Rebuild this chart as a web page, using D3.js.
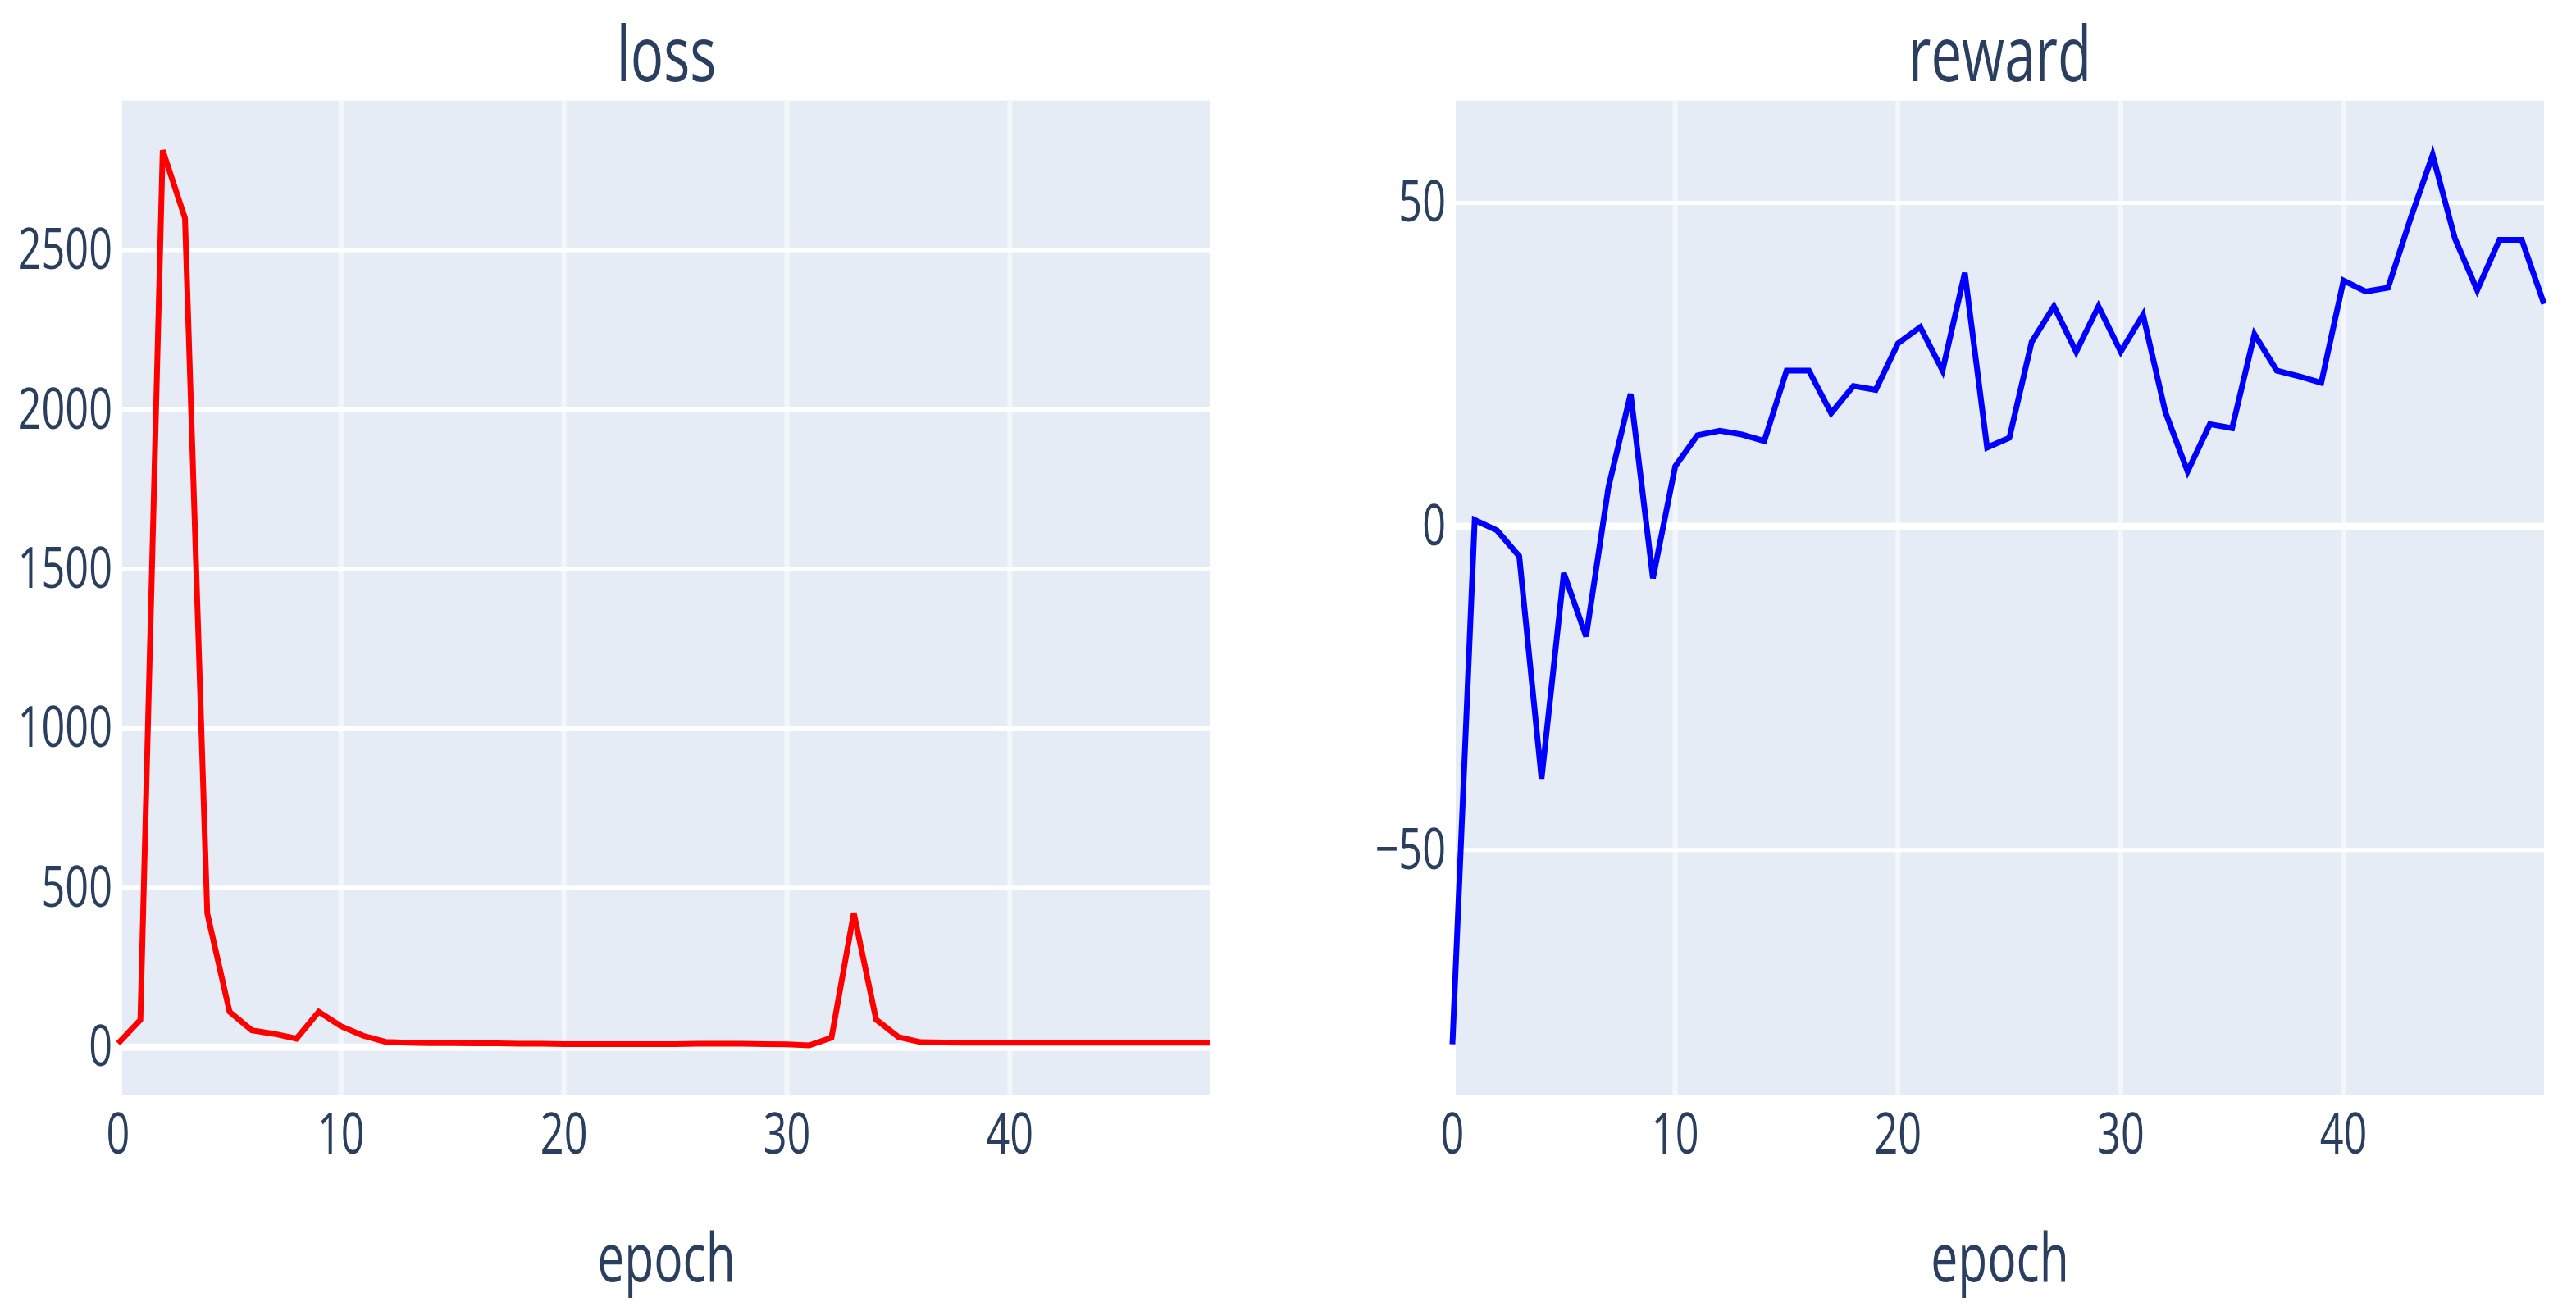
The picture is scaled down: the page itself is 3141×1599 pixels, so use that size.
<!DOCTYPE html>
<html>
<head>
<meta charset="utf-8">
<script src="https://cdn.jsdelivr.net/npm/d3@7"></script>
<style>
  html, body { margin: 0; padding: 0; background: #fff; }
  svg { display: block; }
  text { font-family: 'Open Sans', Verdana, Arial, sans-serif; fill: #2a3f5f; }
</style>
</head>
<body>
<div id="chart"></div>
<script>
const epochs = d3.range(0, 50)

const loss = [12, 86, 2813, 2600, 420, 111, 53, 42, 27, 111,
              66, 36, 17, 14, 13, 13, 12, 12, 11, 11,
              10, 10, 10, 10, 10, 10, 11, 11, 11, 10,
              9, 6, 30, 421, 87, 32, 16, 15, 14, 14,
              14, 14, 14, 14, 14, 14, 14, 14, 14, 14]

const reward = [-80, 1, -0.6, -4.6, -39, -7.2, -17, 6, 20.5, -8,
                9.3, 14.1, 14.8, 14.2, 13.2, 24.1, 24.1, 17.5, 21.7, 21.1,
                28.3, 30.8, 24.1, 39.2, 12.2, 13.7, 28.5, 34, 27, 34,
                27, 32.7, 17.7, 8.5, 15.8, 15.2, 29.7, 24.1, 23.2, 22.2,
                38, 36.3, 36.9, 47.5, 57.4, 44.5, 36.5, 44.3, 44.3, 34.4]

const epochTicks = [0, 10, 20, 30, 40]
const lossTicks = [0, 500, 1000, 1500, 2000, 2500]
const rewardTicks = [-50, 0, 50]

const width = 3141,
      height = 1599

// the picture is stretched vertically, so text is drawn taller than wide
const stretch = 1.39
const tickSize = 50.4,
      titleSize = 67.2,
      axisTitleSize = 58.8

const plotTop = 122.7,
      plotBottom = 1336

const panels = [
  { title: 'loss', values: loss, ticks: lossTicks, color: 'red',
    yDomain: [-151, 2969], xRange: [144, 1476], bg: [149, 1476], labelRight: 137 },
  { title: 'reward', values: reward, ticks: rewardTicks, color: 'blue',
    yDomain: [-87.9, 65.8], xRange: [1771, 3102], bg: [1775, 3102], labelRight: 1763 }
]

const svg = d3.select('#chart').append('svg')
  .attr('width', width)
  .attr('height', height)

const fmt = d => d < 0 ? '\u2212' + Math.abs(d) : String(d)

const stretchedText = (g, x, y, size, anchor, str) => {
  g.append('text')
    .attr('transform', 'translate(' + x + ', ' + y + ') scale(1, ' + stretch + ')')
    .attr('text-anchor', anchor)
    .style('font-size', size + 'px')
    .text(str)
}

const plot = (p) => {
  const xScale = d3.scaleLinear()
    .domain([0, 49])
    .range(p.xRange)

  const yScale = d3.scaleLinear()
    .domain(p.yDomain)
    .range([plotBottom, plotTop])

  const g = svg.append('g').classed('panel', true)

  g.append('rect').classed('plot-bg', true)
    .attr('x', p.bg[0])
    .attr('y', plotTop)
    .attr('width', p.bg[1] - p.bg[0])
    .attr('height', plotBottom - plotTop)
    .style('fill', '#e5ecf6')

  g.append('g').classed('v-grid', true)
    .selectAll('line')
    .data(epochTicks.filter(d => d > 0)).enter()
    .append('line')
    .attr('x1', d => xScale(d))
    .attr('x2', d => xScale(d))
    .attr('y1', plotTop)
    .attr('y2', plotBottom)
    .style('stroke', '#f3f6fb')
    .style('stroke-width', 6)

  g.append('g').classed('h-grid', true)
    .selectAll('line')
    .data(p.ticks).enter()
    .append('line')
    .attr('x1', p.bg[0])
    .attr('x2', p.bg[1])
    .attr('y1', d => yScale(d))
    .attr('y2', d => yScale(d))
    .style('stroke', '#ffffff')
    .style('stroke-width', d => d === 0 ? 9 : 5)

  const line = d3.line()
    .x(d => xScale(d[0]))
    .y(d => yScale(d[1]))

  g.append('path').classed('series', true)
    .datum(epochs.map((e, i) => [e, p.values[i]]))
    .attr('d', line)
    .style('fill', 'none')
    .style('stroke', p.color)
    .style('stroke-width', 7)
    .style('stroke-linejoin', 'miter')

  const yLabels = g.append('g').classed('y-labels', true)
  p.ticks.forEach(d => stretchedText(yLabels, p.labelRight, yScale(d) + 23, tickSize, 'end', fmt(d)))

  const xLabels = g.append('g').classed('x-labels', true)
  epochTicks.forEach(d => stretchedText(xLabels, xScale(d), 1407, tickSize, 'middle', fmt(d)))

  const middleX = (p.bg[0] + p.bg[1]) / 2
  stretchedText(g, middleX, 99, titleSize, 'middle', p.title)
  stretchedText(g, middleX, 1563, axisTitleSize, 'middle', 'epoch')
}

panels.forEach(plot)
</script>
</body>
</html>
